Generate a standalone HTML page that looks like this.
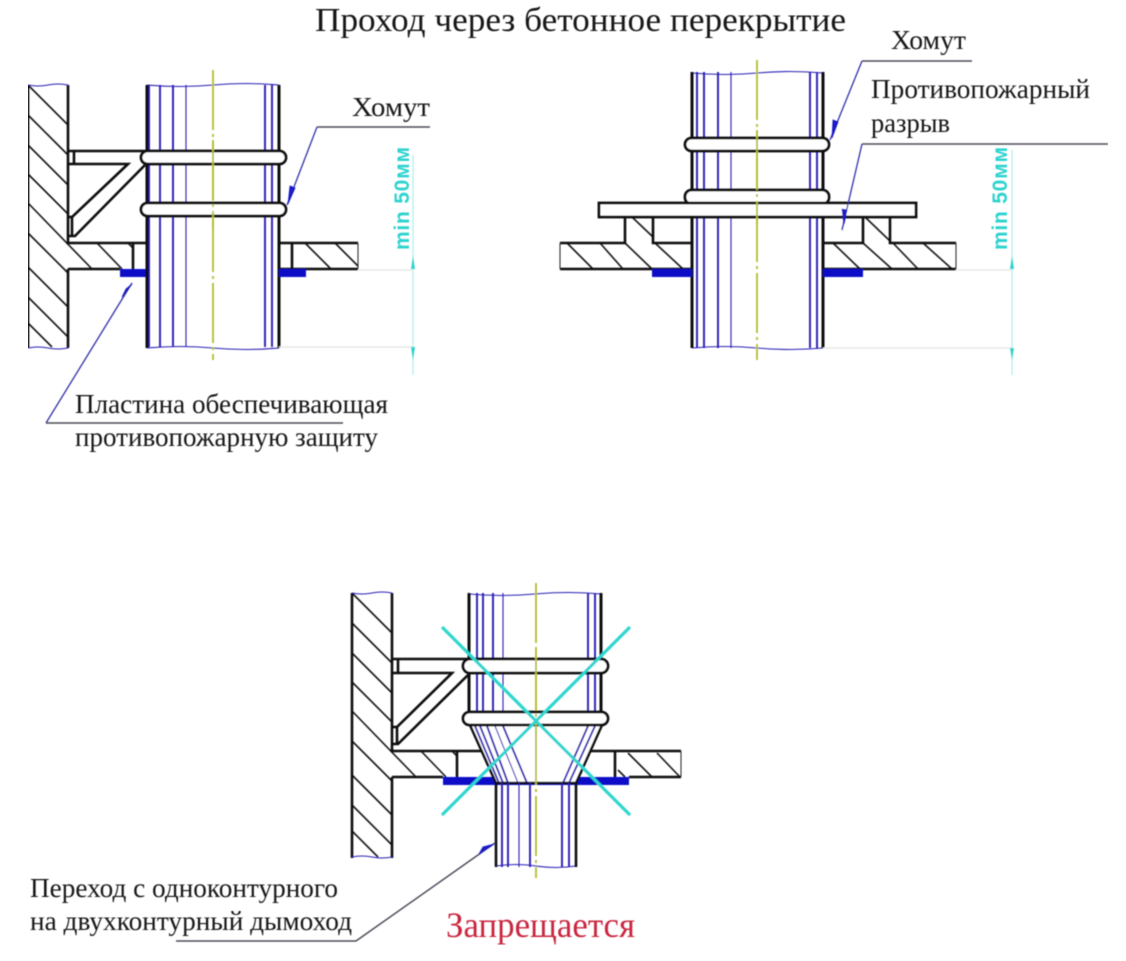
<!DOCTYPE html>
<html lang="ru"><head><meta charset="utf-8"><title>Проход через бетонное перекрытие</title>
<style>html,body{margin:0;padding:0;background:#fff}svg{display:block}
text{font-family:"Liberation Serif","Noto Serif CJK SC",serif;fill:#161616}
.k{stroke:#0c0c0c;stroke-width:2.6;fill:none}
.h{stroke:#151515;stroke-width:1.6;fill:none}
.e{stroke:#333;stroke-width:1.1;fill:none}
.b{stroke:#2a20b4;stroke-width:1.9;fill:none}
.t{stroke:#2a20b4;stroke-width:1.1;fill:none}
.c{stroke:#b4bd30;stroke-width:1.8;fill:none;stroke-dasharray:60 4 3 4}
.l{stroke:#3030a8;stroke-width:1.3;fill:none}
.m{stroke:#4a4a58;stroke-width:1.4;fill:none}
.g{stroke:#e4e4e4;stroke-width:1.3;fill:none}
.d{stroke:#b5efec;stroke-width:1.3;fill:none}
.cl{fill:#fff;stroke:#0c0c0c;stroke-width:2.8}
.dt{font-family:"Liberation Sans","DejaVu Sans",sans-serif;fill:#2fd3cf;font-weight:bold}
.a{fill:#1a1ac8;stroke:#1a1ac8;stroke-width:.8}
</style></head><body>
<svg width="1126" height="961" viewBox="0 0 1126 961" xmlns="http://www.w3.org/2000/svg">
<defs><filter id="s" x="0" y="0" width="100%" height="100%"><feGaussianBlur stdDeviation="0.45"/></filter></defs>
<rect width="1126" height="961" fill="#fff"/>
<g filter="url(#s)">
<text x="315" y="31" font-size="34" textLength="531" lengthAdjust="spacingAndGlyphs">Проход через бетонное перекрытие</text>

<!-- Diagram 1 -->
<path class="h" d="M28 85L68 125M28 115L68 155M28 145L68 185M28 174L68 214M28 203L92 269M28 233L68 273M28 267L68 307M28 297L68 337M28 323L52 347"/>
<path class="h" d="M97 243L122 269M128 243L133 248"/>
<path class="k" d="M28 85V348M68 85V243H147M68 269V348M68 269H120M133 243V269"/>
<path class="t" d="M28 85q10 2 20 0t20 0M28 348q10 -2 20 0t20 0"/>
<path class="k" d="M68 151H147M68 164H128L72 217V236M74 151V164M145 165L75 236H68M68 217H72"/>
<rect x="120" y="269" width="27" height="8" fill="#1010c8"/>
<path class="b" d="M149 85V347M160 85V347M173 85V347"/><path class="t" d="M186 85V347"/><path class="b" d="M265 85V347M272 85V347"/>
<path class="t" d="M147 85q33 3 66 0t66 0M147 348q33 -3 66 0t66 0"/>
<path class="k" style="stroke-width:3" d="M147 85V348M279 85V348"/>
<path class="k" d="M279 243H358M279 269H358M292 243V269"/>
<path class="e" d="M358 243V269"/>
<path class="h" d="M305 243L331 269M335 243L358 266"/>
<rect x="279" y="269" width="27" height="8" fill="#1010c8"/>
<path class="c" d="M213 70V360"/>
<rect class="cl" x="141" y="151" width="145" height="13" rx="6.5"/>
<rect class="cl" x="141" y="203" width="145" height="13" rx="6.5"/>
<path class="c" d="M213 140V230"/>
<path class="m" d="M430 127H317"/><path class="l" d="M317 127L287 205"/><path class="a" d="M295 188L288 204L290 186Z"/>
<path class="l" d="M132 283L46 423"/><path class="m" d="M46 423H343"/><path class="a" d="M132 284L122 297L126 289Z"/>
<text x="352" y="116" font-size="27" textLength="78" lengthAdjust="spacingAndGlyphs">Хомут</text>
<text x="75" y="413" font-size="27" textLength="313" lengthAdjust="spacingAndGlyphs">Пластина обеспечивающая</text>
<text x="75" y="446" font-size="27" textLength="303" lengthAdjust="spacingAndGlyphs">противопожарную защиту</text>
<path class="g" d="M358 270H413M279 347H413"/>
<path class="d" d="M413 155V375"/>
<path d="M413 256L411 269H415ZM413 360L411 347H415Z" fill="#2fd3cf"/>
<text class="dt" transform="translate(409 250) rotate(-90)" font-size="21" textLength="103" lengthAdjust="spacing">min 50мм</text>

<!-- Diagram 2 -->
<path class="b" d="M697 72V348M704 72V348M718 72V348"/><path class="t" d="M731 72V348"/><path class="b" d="M810 72V348M817 72V348"/>
<path class="t" d="M692 73q33 3 65 0t66 0M692 348q33 -3 65 0t66 0"/>
<path class="k" style="stroke-width:3" d="M692 72V348M823 72V348"/>
<path class="h" d="M567 243L593 269M600 243L623 269M632 217L653 237M625 243L652 269M655 243L683 269M833 243L860 269M865 217L890 241M863 243L892 269M893 243L918 269M923 243L952 269"/>
<path class="k" d="M560 243H625V217M653 217V243H692M823 243H863V217M890 217V243H956M560 269H692M823 269H956"/>
<path class="e" d="M560 243V269M956 243V269"/>
<rect x="652" y="269" width="40" height="8" fill="#1010c8"/>
<rect x="823" y="269" width="40" height="8" fill="#1010c8"/>
<path class="c" d="M757 60V360"/>
<rect class="cl" x="685" y="138" width="144" height="13" rx="6.5"/>
<rect class="cl" x="685" y="190" width="144" height="14" rx="6.5"/>
<rect class="cl" x="599" y="203" width="317" height="14"/>
<path class="c" d="M757 130V225"/>
<path class="m" d="M972 61H862"/><path class="l" d="M862 61L830 140"/><path class="a" d="M838 122L832 138L833 120Z"/>
<path class="m" d="M1108 144H862"/><path class="l" d="M862 144L842 230"/><path class="a" d="M847 210L844 224L842 209Z"/>
<text x="891" y="49" font-size="27" textLength="75" lengthAdjust="spacingAndGlyphs">Хомут</text>
<text x="871" y="98" font-size="27" textLength="219" lengthAdjust="spacingAndGlyphs">Противопожарный</text>
<text x="871" y="132" font-size="27" textLength="79" lengthAdjust="spacingAndGlyphs">разрыв</text>
<path class="g" d="M956 270H1012M823 348H1012"/>
<path class="d" d="M1012 150V375"/>
<path d="M1012 256L1010 269H1014ZM1012 360L1010 348H1014Z" fill="#2fd3cf"/>
<text class="dt" transform="translate(1007 250) rotate(-90)" font-size="21" textLength="103" lengthAdjust="spacing">min 50мм</text>

<!-- Diagram 3 -->
<path class="h" d="M352 593L392 633M352 623L392 663M352 653L392 693M352 682L392 722M352 711L416 777M352 741L392 781M352 775L392 815M352 805L392 845M352 831L378 857"/>
<path class="h" d="M421 751L446 777M452 751L457 756M618 770L625 777M628 753L652 777M657 753L680 777"/>
<path class="k" d="M352 593V858M392 593V751H482M392 777V858M392 777H443M457 751V777"/>
<path class="t" d="M352 593q10 2 20 0t20 0M352 857q10 -2 20 0t20 0"/>
<path class="k" d="M392 659H469M392 673H452L397 727V744M398 659V673M468 675L398 744H392M392 727H397"/>
<path class="k" d="M590 751H681M629 777H681M615 751V777"/>
<path class="e" d="M681 751V777"/>
<rect x="443" y="777" width="186" height="8" fill="#1010c8"/>
<path d="M470 725L496 783H576L602 725Z" fill="#fff"/>
<path class="b" d="M477 593V712M483 593V712M493 593V712"/><path class="t" d="M503 593V712"/><path class="b" d="M588 593V712M595 593V712"/>
<path class="t" d="M469 594q33 3 66 0t66 0"/>
<path class="k" style="stroke-width:3" d="M469 593V712M601 593V712"/>
<path class="b" d="M475 726L499 783M480 726L503 783M487 726L508 783"/><path class="t" d="M495 726L518 783"/><path class="b" d="M503 726L527 783M588 726L563 783M595 726L569 783"/>
<path class="k" d="M470 725L496 783H576L602 725"/>
<path class="b" d="M502 783V867M508 783V867M530 783V867M562 783V867M569 783V867"/><path class="t" d="M519 783V867"/>
<path class="t" d="M496 866q20 -3 40 0t40 0"/>
<path class="k" d="M496 783V867M576 783V867"/>
<path class="c" d="M536 583V878"/>
<rect class="cl" x="463" y="659" width="145" height="14" rx="7"/>
<rect class="cl" x="463" y="712" width="145" height="13" rx="6.5"/>
<path class="c" d="M536 650V735"/>
<path d="M442 627L630 815M630 627L442 815" stroke="#2fd6cf" stroke-width="3.2" fill="none"/>
<path class="m" d="M495 843L356 941H176"/><path class="a" d="M494 844L479 854L483 847Z"/>
<text x="30" y="897" font-size="27" textLength="308" lengthAdjust="spacingAndGlyphs">Переход с одноконтурного</text>
<text x="30" y="930" font-size="27" textLength="322" lengthAdjust="spacingAndGlyphs">на двухконтурный дымоход</text>
<text x="446" y="937" font-size="36" textLength="189" lengthAdjust="spacingAndGlyphs" style="fill:#c9283f">Запрещается</text>
</g>
</svg>
</body></html>
